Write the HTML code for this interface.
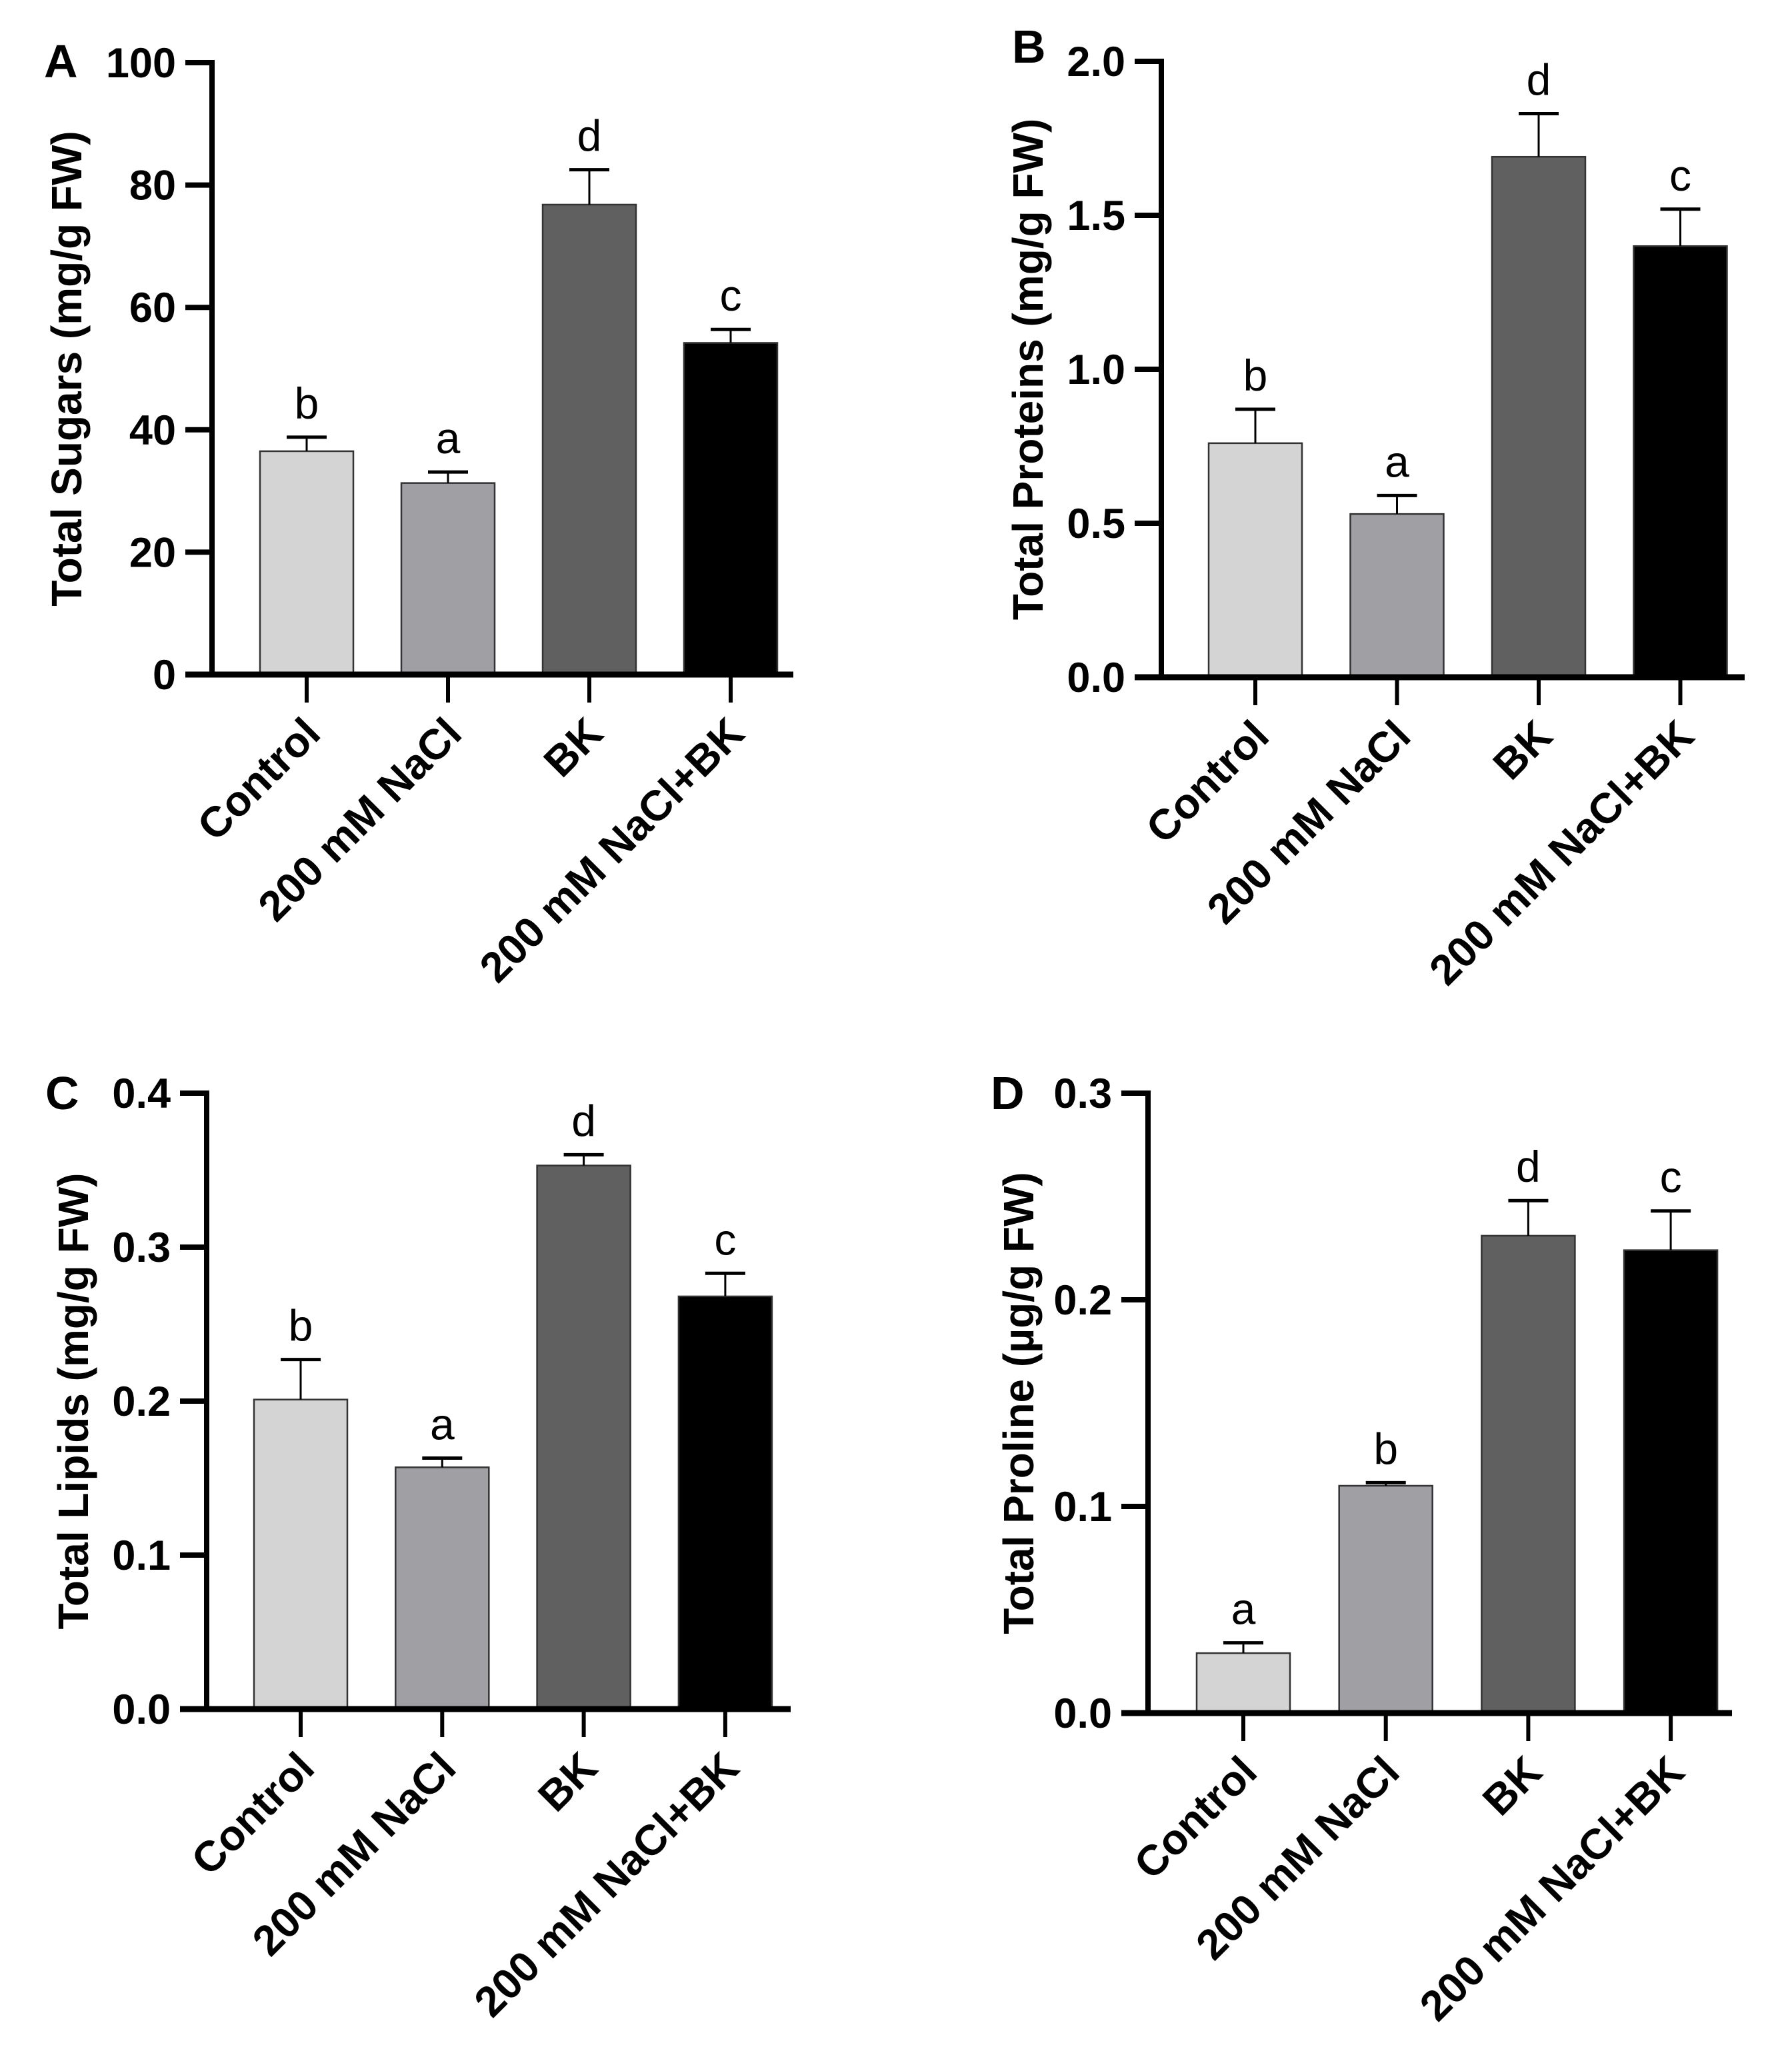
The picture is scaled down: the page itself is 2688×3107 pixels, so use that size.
<!DOCTYPE html>
<html><head><meta charset="utf-8"><style>
html,body{margin:0;padding:0;background:#fff;}
svg{display:block;font-family:"Liberation Sans",Arial,sans-serif;}
</style></head><body>
<svg id="fig" width="2688" height="3107" viewBox="0 0 2688 3107" xmlns="http://www.w3.org/2000/svg"></svg>
<script>
const categories = ["Control","200 mM NaCl","BK","200 mM NaCl+BK"];
const colors = ["#d4d4d4","#a0a0a4","#606060","#000000"];
const sugarsValues = [36.5,31.3,76.8,54.2];
const sugarsErrors = [2.3,1.8,5.7,2.2];
const sugarsLetters = ["b","a","d","c"];
const sugarsTicks = ["0","20","40","60","80","100"];
const proteinsValues = [0.76,0.53,1.69,1.40];
const proteinsErrors = [0.11,0.06,0.14,0.12];
const proteinsLetters = ["b","a","d","c"];
const proteinsTicks = ["0.0","0.5","1.0","1.5","2.0"];
const lipidsValues = [0.201,0.157,0.353,0.268];
const lipidsErrors = [0.026,0.006,0.007,0.015];
const lipidsLetters = ["b","a","d","c"];
const lipidsTicks = ["0.0","0.1","0.2","0.3","0.4"];
const prolineValues = [0.029,0.110,0.231,0.224];
const prolineErrors = [0.005,0.0015,0.017,0.019];
const prolineLetters = ["a","b","d","c"];
const prolineTicks = ["0.0","0.1","0.2","0.3"];

const NS="http://www.w3.org/2000/svg";
const svg=document.getElementById('fig');
function mk(tag,attrs,parent,text){const e=document.createElementNS(NS,tag);for(const k in attrs)e.setAttribute(k,attrs[k]);if(text!==undefined)e.textContent=text;(parent||svg).appendChild(e);return e;}

function panel(cfg,values,errors,letters,ticks){
  const g=mk('g',{});
  
  
  const ymax=parseFloat(ticks[ticks.length-1]);
  const ys=v=>cfg.y0-(v/ymax)*(cfg.y0-cfg.yTop);
  const xs=i=>cfg.x1+i*cfg.step;
  const bw=140;
  values.forEach((v,i)=>{
    const top=ys(v);
    const b=mk('rect',{x:xs(i)-bw/2,y:top,width:bw,height:cfg.y0-top,fill:colors[i],stroke:'#333',"stroke-width":2.5},g);
    
    
    const et=ys(v+errors[i]);
    const el=mk('g',{},g);
    
    
    mk('line',{x1:xs(i),x2:xs(i),y1:top,y2:et,stroke:'#000',"stroke-width":3},el);
    mk('line',{x1:xs(i)-30,x2:xs(i)+30,y1:et,y2:et,stroke:'#000',"stroke-width":5},el);
    const t=mk('text',{x:xs(i),y:et-28,"text-anchor":'middle',"font-size":66},g,letters[i]);
    
    
    const cx=xs(i)+24, cy=cfg.y0+92;
    const c=mk('text',{x:cx,y:cy,"text-anchor":'end',"font-size":64,"font-weight":'bold',transform:`rotate(-45 ${cx} ${cy})`},g,categories[i]);
    
    
    mk('line',{x1:xs(i),x2:xs(i),y1:cfg.y0,y2:cfg.y0+42,stroke:'#000',"stroke-width":6},g);
  });
  const ya=mk('line',{x1:cfg.ax,x2:cfg.ax,y1:cfg.yTop-4,y2:cfg.y0,stroke:'#000',"stroke-width":8},g);
  
  
  const xa=mk('line',{x1:cfg.ax-40,x2:cfg.xEnd,y1:cfg.y0,y2:cfg.y0,stroke:'#000',"stroke-width":9},g);
  
  
  ticks.forEach(t=>{
    const y=ys(parseFloat(t));
    mk('line',{x1:cfg.ax-40,x2:cfg.ax,y1:y,y2:y,stroke:'#000',"stroke-width":8},g);
    const tl=mk('text',{x:cfg.ax-54,y:y+22,"text-anchor":'end',"font-size":63,"font-weight":'bold'},g,t);
    
    
  });
  const ty=(cfg.y0+cfg.yTop)/2;
  const tt=mk('text',{x:cfg.tx,y:ty,"text-anchor":'middle',"font-size":64,"font-weight":'bold',transform:`rotate(-90 ${cfg.tx} ${ty})`},g,cfg.title);
  
  
  const pl=mk('text',{x:cfg.lx,y:cfg.ly,"font-size":70,"font-weight":'bold'},g,cfg.letter);
  
  
}

panel({id:'a',ax:318,y0:1012,yTop:94,x1:460,step:212,xEnd:1190,tx:122,title:'Total Sugars (mg/g FW)',letter:'A',lx:66,ly:116},sugarsValues,sugarsErrors,sugarsLetters,sugarsTicks);
panel({id:'b',ax:1742,y0:1016,yTop:92,x1:1883,step:212.5,xEnd:2617,tx:1564,title:'Total Proteins (mg/g FW)',letter:'B',lx:1518,ly:94},proteinsValues,proteinsErrors,proteinsLetters,proteinsTicks);
panel({id:'c',ax:310,y0:2564,yTop:1640,x1:451,step:212.3,xEnd:1186,tx:132,title:'Total Lipids (mg/g FW)',letter:'C',lx:68,ly:1664},lipidsValues,lipidsErrors,lipidsLetters,lipidsTicks);
panel({id:'d',ax:1722,y0:2570,yTop:1640,x1:1865,step:213.7,xEnd:2598,tx:1550,title:'Total Proline (\u00b5g/g FW)',letter:'D',lx:1486,ly:1664},prolineValues,prolineErrors,prolineLetters,prolineTicks);
</script>
</body></html>
